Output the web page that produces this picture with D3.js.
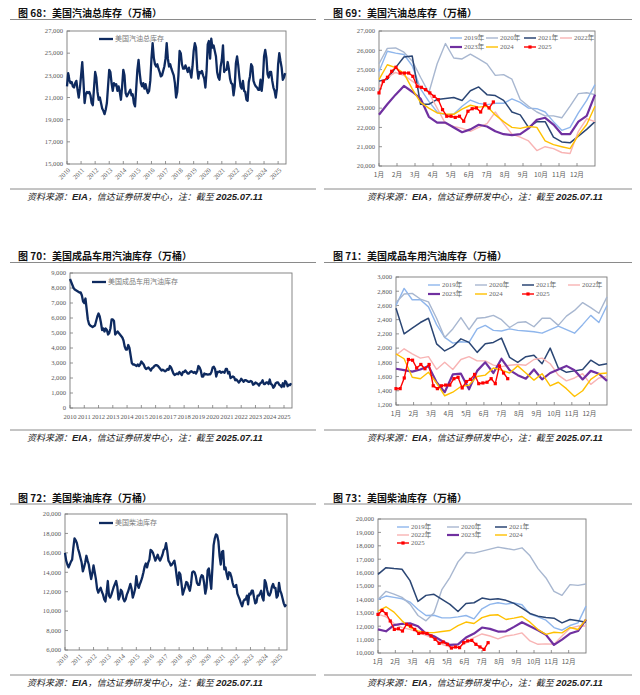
<!DOCTYPE html>
<html><head><meta charset="utf-8">
<script src="https://cdn.jsdelivr.net/npm/d3@7"></script>
<style>body{margin:0;background:#fff}svg{display:block}</style></head>
<body><svg id="c" width="640" height="695"></svg>
<script>
// ---------- DATA ----------
const yearLabels = d3.range(2010, 2026).map(String);
const monthLabels = ["1月","2月","3月","4月","5月","6月","7月","8月","9月","10月","11月","12月"];
const seasonNames = ["2019年","2020年","2021年","2022年","2023年","2024","2025"];

// Fig 68: US total gasoline stocks, monthly 2010-01 .. 2025-07 (万桶)
const gasTotal = [
22000,23200,22600,22300,22400,22000,21900,22300,22500,21700,21000,21800,
23000,24200,22500,20500,21300,21500,21400,21500,21200,20500,20300,21800,
23300,22800,21500,20800,21000,20500,20000,19800,19500,19900,20500,22000,
23500,23300,22300,21600,22300,22100,22200,21600,22000,21500,20800,22000,
23500,23000,21400,21100,21300,21500,21700,21200,21300,20500,20200,21800,
23500,24400,23200,22300,22000,22300,21800,22200,21700,21400,21600,22500,
24500,25900,24600,24000,23800,24000,23600,23300,22900,23000,23400,23800,
24500,25900,24500,23800,24000,23600,23300,23000,22300,21000,21500,23000,
25200,25000,24000,23600,23600,23900,23600,23300,23700,23300,22800,23800,
25200,25900,25500,23600,22700,23300,23200,23400,23000,22700,21900,23400,
25800,26100,24500,26300,25500,25700,25200,24700,23300,22800,22600,23800,
24400,25700,23300,23500,23500,24200,23600,22700,22300,22200,21200,22000,
24100,24700,23900,22800,22000,21800,22500,21600,21500,20800,20700,22400,
22900,24000,23800,22500,22200,22000,21900,21700,21700,22600,21600,22600,
24700,25300,24600,23100,22800,23300,23300,22500,21900,21600,21000,21800,
24000,25000,24300,23700,22600,22800,23200];

// Fig 70: US finished motor gasoline stocks, monthly
const gasFinished = [
8600,8400,8200,8000,7900,7850,7800,7750,7700,7700,7500,7100,
7000,7300,6600,5900,5600,5500,5450,5400,5450,5500,5800,6100,
6300,6100,5700,5200,5300,5100,5300,5200,4900,5000,5300,5900,
5900,5800,4900,5000,5100,5000,4900,4800,4700,4500,4100,3900,
3900,4200,4000,3500,3000,2900,2900,2850,2800,2900,2800,2900,
3100,3000,2900,2700,2600,2650,2700,2600,2500,2650,2700,2800,
2850,2850,2800,2700,2600,2500,2550,2500,2450,2500,2600,2550,
2800,2700,2500,2300,2200,2250,2300,2250,2400,2300,2200,2400,
2400,2500,2400,2300,2300,2400,2450,2400,2350,2400,2300,2450,
2800,2700,2500,2100,2100,2300,2250,2250,2220,2250,2250,2400,
2700,2750,2600,2100,2400,2400,2450,2350,2400,2400,2350,2600,
2600,2300,2400,2000,2050,2100,2050,1850,1900,1800,1700,1800,
1950,1850,1750,1850,1850,1800,1750,1750,1800,1750,1550,1600,
1700,1650,1600,1500,1650,1700,1850,1600,1600,1700,1700,1600,
1900,1600,1550,1350,1450,1650,1700,1700,1550,1500,1400,1650,
1430,1800,1700,1450,1550,1520,1650];

// Fig 72: US distillate stocks, monthly
const distillate = [
16000,15200,14800,14500,14800,15100,15300,16500,17500,17300,17000,16400,
16000,15500,15000,14100,14500,15000,15700,15200,14800,14000,13300,13900,
14700,14000,13300,12300,11900,12200,12400,12000,11700,11200,11000,11900,
13100,11600,11400,11700,12100,12500,12800,13100,12500,11200,11500,12200,
12000,11300,11000,11200,11700,12000,12400,12800,12300,11400,11800,12300,
13600,12700,12400,12800,13100,13500,14000,14600,14900,14500,15000,15300,
16300,16200,16000,15600,15200,15500,15800,15400,15200,15500,15800,16300,
16400,17000,16200,15200,15000,14700,14800,15000,15200,14500,13500,12700,
14000,13800,12800,11700,12100,12500,13000,12900,12400,12100,12800,14000,
14100,14000,13600,12900,12700,12700,13400,13700,13600,12900,11800,12400,
14200,14400,13300,12300,14500,16800,17500,17900,17800,17200,15700,14800,
16100,16200,14300,14500,13800,13300,14000,13900,13500,12900,12500,12500,
12700,11800,11500,11200,10800,10500,11000,11200,11200,11600,10700,11800,
11700,12100,12100,11400,10800,10900,11600,11600,11800,12100,11400,11100,
13200,12900,12200,11700,11600,11900,12500,12800,12400,12400,11400,11600,
12900,12100,11800,11300,10800,10500,10700];

// Fig 69: seasonal total gasoline (full years sampled bi-weekly, 2025 weekly)
const gasSeasonal = [
[24900,25950,25850,25780,25200,24000,23350,22800,22650,22700,23100,23420,23250,23180,23250,23250,23480,23300,23000,22970,22800,22300,21850,22000,22750,23400,24220],
[25300,26100,26120,25900,25450,24600,23800,25300,26350,25600,25550,25800,25550,25300,24700,24740,24500,23450,23100,22800,22600,22600,22500,23100,23750,23800,23700],
[24400,24500,25100,25650,25700,23200,23200,23450,23500,23550,23400,23900,24100,23700,23650,23400,22800,22650,22000,22300,22300,21500,21250,21200,21550,21900,22300],
[24100,24600,24850,24700,24400,24100,23800,23000,22200,22050,21950,21800,22000,22200,22800,22200,21650,21500,21300,20800,21000,20900,20700,20650,21800,22450,22300],
[22660,23200,23700,24150,23850,23500,22550,22250,22250,22000,21750,21900,22140,22050,21800,21650,21600,21650,21950,22400,22500,22150,21650,21650,22300,22600,23700],
[24480,25250,25100,24800,24000,23300,23000,22750,22700,22680,22950,23150,23050,23100,22650,22300,22000,21950,22050,22000,21300,21110,21000,20900,21600,22150,23100],
[23790,24390,24600,24910,25120,24820,24820,24820,24650,24130,24080,23960,23790,23610,23440,22920,22580,22580,22520,22580,22320,22840,22970,23010,22800,23220,23010,23320]
];

// Fig 71: seasonal finished motor gasoline
const finSeasonal = [
[2600,2840,2680,2680,2580,2330,2150,2070,2090,2080,2270,2320,2250,2240,2270,2250,2240,2230,2210,2260,2310,2260,2210,2330,2460,2360,2600],
[2640,2760,2770,2690,2650,2420,2150,2270,2430,2260,2420,2430,2460,2400,2290,2360,2370,2300,2420,2420,2320,2450,2530,2640,2570,2490,2720],
[2560,2200,2280,2360,2420,2060,1960,2020,2130,2080,1940,2060,2080,2140,1870,1800,1880,1900,1780,2000,1720,1660,1680,1700,1830,1760,1780],
[1900,1990,1920,1860,1880,1700,1800,1700,1840,1880,1820,1820,1760,1740,1760,1770,1760,1840,1860,1780,1620,1540,1580,1640,1490,1580,1600],
[1710,1690,1670,1700,1750,1520,1380,1630,1640,1420,1680,1800,1650,1850,1690,1620,1570,1700,1560,1650,1700,1750,1690,1560,1680,1640,1540],
[1920,1850,1590,1570,1660,1510,1330,1380,1460,1480,1600,1620,1720,1690,1650,1750,1650,1550,1640,1470,1520,1430,1320,1400,1560,1640,1650],
[1430,1430,1580,1840,1830,1720,1770,1710,1770,1470,1430,1470,1480,1480,1570,1590,1440,1530,1560,1630,1500,1510,1520,1570,1500,1750,1650,1570]
];

// Fig 73: seasonal distillate
const distSeasonal = [
[14000,14250,14150,14050,13800,13250,12800,12820,12620,12620,12700,12800,12550,13300,13630,13750,13650,13730,13600,12900,12700,12450,11900,11700,12050,12250,13500],
[14000,14600,14400,14150,13650,12800,12400,13000,14750,15650,16800,17500,17450,17600,17750,17900,17800,17700,17850,17250,16300,15600,14600,14300,15100,15050,15150],
[15870,16370,16300,16250,15400,13850,14300,14380,14000,13630,13100,13700,13750,14100,14000,14050,13930,13700,13350,12950,12750,12650,12600,12250,12500,12400,12300],
[12900,12700,12200,11890,11760,11550,11320,11100,10650,10450,10420,10750,11150,11420,11270,11050,11270,11350,11500,10900,10650,10680,10650,11270,11850,12010,12010],
[11760,11620,12080,12180,12210,12000,11450,11250,10900,10600,10650,11150,11450,11900,11800,11600,11620,11950,12300,12000,11700,11350,10600,11000,11450,11640,12500],
[13130,13450,13050,12400,11900,11650,11520,11520,11600,11680,12050,12310,12200,12640,12820,12850,12500,12600,12720,12300,11750,11390,11550,11500,11900,11750,12510],
[12880,13180,12930,12390,11760,11810,11640,12140,12010,11760,11460,11510,11460,11270,11020,10720,10820,10650,10370,10450,10400,10770,10900,10940,10650,10450,10270,10770]
];

// ---------- STYLE ----------
const svg = d3.select("#c");
const CJK = "'Noto Sans CJK SC','Noto Sans',sans-serif";
const NUM = "'Liberation Serif','DejaVu Serif',serif";
const LEG = "'Liberation Serif','Noto Sans CJK SC',serif";
const navy = "#0E2A5F";
const seasonColors = ["#8FB6EC","#A8B7D0","#2B4674","#F8B4B4","#7030A0","#FFC000","#FF0000"];
const seasonWidths = [1.4,1.4,1.5,1.4,2.2,1.4,1.4];

function header(x, yTitle, lineX0, lineX1, yLine, title, yBottomLine, ySrc, srcX) {
  svg.append("text").attr("x", x).attr("y", yTitle)
    .attr("font-family", CJK).attr("font-weight", 700).attr("font-size", 10)
    .attr("fill", "#111").text(title);
  svg.append("line").attr("x1", lineX0).attr("x2", lineX1).attr("y1", yLine).attr("y2", yLine)
    .attr("stroke", "#8a8a8a").attr("stroke-width", 1);
  svg.append("line").attr("x1", lineX0).attr("x2", lineX1).attr("y1", yBottomLine).attr("y2", yBottomLine)
    .attr("stroke", "#8a8a8a").attr("stroke-width", 1);
  const t = svg.append("text").attr("x", srcX).attr("y", ySrc).attr("font-style", "italic").attr("fill", "#222");
  t.append("tspan").attr("font-family", CJK).attr("font-size", 9).text("资料来源：");
  t.append("tspan").attr("font-family", "'Liberation Sans',Arial,sans-serif").attr("font-weight", 700).attr("font-size", 9.5).text("EIA");
  t.append("tspan").attr("font-family", CJK).attr("font-size", 9).text("，信达证券研发中心，注：截至 ");
  t.append("tspan").attr("font-family", "'Liberation Sans',Arial,sans-serif").attr("font-weight", 700).attr("font-size", 9.5).text("2025.07.11");
}

function frameAndY(p, y, ticks) {
  const g = svg.append("g");
  g.append("rect").attr("x", p.x0).attr("y", p.y0).attr("width", p.x1 - p.x0).attr("height", p.y1 - p.y0)
    .attr("fill", "none").attr("stroke", "#7a7a7a").attr("stroke-width", 0.9);
  ticks.forEach(v => {
    g.append("line").attr("x1", p.x0).attr("x2", p.x0 + 3).attr("y1", y(v)).attr("y2", y(v))
      .attr("stroke", "#7a7a7a").attr("stroke-width", 0.8);
    g.append("text").attr("x", p.x0 - 4).attr("y", y(v)).attr("dy", "0.35em")
      .attr("text-anchor", "end").attr("font-family", NUM).attr("font-size", 6.6)
      .attr("fill", "#595959").text(d3.format(",")(v));
  });
}

function longChart(p, data, yDom, yStep, rotated, legendText, leg) {
  const x = d3.scaleLinear().domain([2010, 2025.56]).range([p.x0, p.x1]);
  const y = d3.scaleLinear().domain(yDom).range([p.y1, p.y0]);
  frameAndY(p, y, d3.range(yDom[0], yDom[1] + 1, yStep));
  yearLabels.forEach(s => {
    const xv = x(+s);
    svg.append("line").attr("x1", xv).attr("x2", xv).attr("y1", p.y1).attr("y2", p.y1 - 3)
      .attr("stroke", "#7a7a7a").attr("stroke-width", 0.8);
    if (rotated) {
      svg.append("text").attr("transform", `translate(${xv + 2},${p.y1 + 5}) rotate(-45)`)
        .attr("text-anchor", "end").attr("dy", "0.35em").attr("font-family", NUM).attr("font-size", 6.6)
        .attr("fill", "#595959").text(s);
    } else {
      svg.append("text").attr("x", xv).attr("y", p.y1 + 10.5).attr("text-anchor", "middle")
        .attr("font-family", NUM).attr("font-size", 6.6).attr("fill", "#595959").text(s);
    }
  });
  const line = d3.line().x((d, i) => x(2010 + i / 12)).y(d => y(d)).curve(d3.curveLinear);
  svg.append("path").datum(data).attr("d", line).attr("fill", "none")
    .attr("stroke", navy).attr("stroke-width", 2.3).attr("stroke-linejoin", "round");
  svg.append("line").attr("x1", leg.x).attr("x2", leg.x + 14).attr("y1", leg.y).attr("y2", leg.y)
    .attr("stroke", navy).attr("stroke-width", 2.3);
  svg.append("text").attr("x", leg.x + 16).attr("y", leg.y).attr("dy", "0.35em")
    .attr("font-family", CJK).attr("font-size", 7).attr("fill", "#7a7a7a").text(legendText);
}

function seasonalChart(p, series, yDom, yStep, legCols, legRows) {
  const xw = d3.scaleLinear().domain([0, 51]).range([p.x0, p.x1]);
  const xm = d3.scaleLinear().domain([0, 12]).range([p.x0, p.x1]);
  const y = d3.scaleLinear().domain(yDom).range([p.y1, p.y0]);
  frameAndY(p, y, d3.range(yDom[0], yDom[1] + 1, yStep));
  monthLabels.forEach((m, i) => {
    svg.append("line").attr("x1", xm(i)).attr("x2", xm(i)).attr("y1", p.y1).attr("y2", p.y1 - 3)
      .attr("stroke", "#7a7a7a").attr("stroke-width", 0.8);
    svg.append("text").attr("x", xm(i)).attr("y", p.y1 + 10.5).attr("text-anchor", "middle")
      .attr("font-family", CJK).attr("font-size", 6.6).attr("fill", "#595959").text(m);
  });
  const g = svg.append("g");
  series.forEach((s, k) => {
    const n = s.length;
    const pos = k === 6 ? (i => i) : (i => i * 51 / (n - 1));
    const line = d3.line().x((d, i) => xw(pos(i))).y(d => y(d));
    g.append("path").datum(s).attr("d", line).attr("fill", "none")
      .attr("stroke", seasonColors[k]).attr("stroke-width", seasonWidths[k]).attr("stroke-linejoin", "round");
    if (k === 6) {
      g.selectAll(null).data(s).enter().append("rect")
        .attr("x", (d, i) => xw(pos(i)) - 1.6).attr("y", d => y(d) - 1.6)
        .attr("width", 3.2).attr("height", 3.2).attr("fill", "#FF0000");
    }
  });
  // legend
  const perRow = legCols.length;
  seasonNames.forEach((nm, k) => {
    const cx = legCols[k % perRow], cy = legRows[Math.floor(k / perRow)];
    svg.append("line").attr("x1", cx).attr("x2", cx + 12).attr("y1", cy).attr("y2", cy)
      .attr("stroke", seasonColors[k]).attr("stroke-width", seasonWidths[k]);
    if (k === 6) svg.append("rect").attr("x", cx + 4.4).attr("y", cy - 1.6).attr("width", 3.2).attr("height", 3.2).attr("fill", "#FF0000");
    svg.append("text").attr("x", cx + 14).attr("y", cy).attr("dy", "0.33em")
      .attr("font-family", LEG).attr("font-size", 6.8).attr("fill", "#666").text(nm);
  });
}

// ---------- PANELS ----------
header(18, 17, 10, 316, 19.5, "图 68：美国汽油总库存（万桶）", 189, 200, 27);
header(333, 17, 324, 632, 19.5, "图 69：美国汽油总库存（万桶）", 189, 200, 367);
header(18, 260, 10, 316, 262.5, "图 70：美国成品车用汽油库存（万桶）", 430, 441, 27);
header(333, 260, 324, 632, 262.5, "图 71：美国成品车用汽油库存（万桶）", 430, 441, 367);
header(18, 502, 10, 316, 504, "图 72：美国柴油库存（万桶）", 675, 686, 27);
header(333, 502, 324, 632, 504, "图 73：美国柴油库存（万桶）", 675, 686, 367);

longChart({x0: 67, x1: 286, y0: 31, y1: 164}, gasTotal, [15000, 27000], 2000, true, "美国汽油总库存", {x: 99, y: 39});
longChart({x0: 70, x1: 292, y0: 273, y1: 408}, gasFinished, [0, 9000], 1000, false, "美国成品车用汽油库存", {x: 92, y: 282});
longChart({x0: 65, x1: 287, y0: 514, y1: 650}, distillate, [6000, 20000], 2000, true, "美国柴油库存", {x: 99, y: 523});

seasonalChart({x0: 379, x1: 595, y0: 31, y1: 166}, gasSeasonal, [20000, 27000], 1000, [450, 486, 524, 560], [38, 47]);
seasonalChart({x0: 396, x1: 607, y0: 277, y1: 405}, finSeasonal, [1200, 3000], 200, [428, 475, 522, 568], [285, 294]);
seasonalChart({x0: 378, x1: 586, y0: 519, y1: 653}, distSeasonal, [10000, 20000], 1000, [397, 447, 495], [527, 535, 543]);
</script></body></html>
